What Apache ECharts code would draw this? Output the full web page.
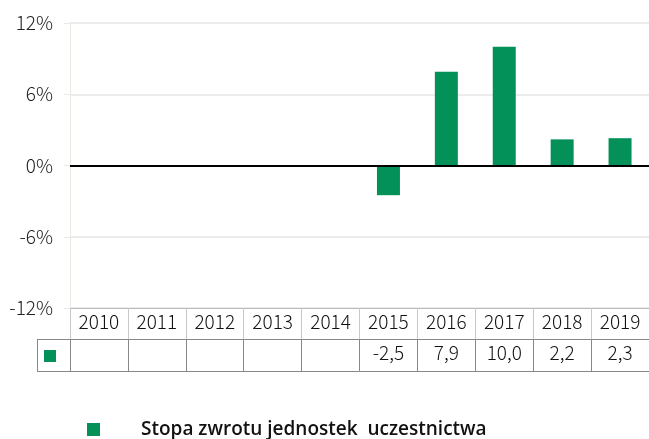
<!DOCTYPE html>
<html>
<head>
<meta charset="utf-8">
<script src="https://cdn.jsdelivr.net/npm/echarts@6/dist/echarts.min.js"></script>
<style>
html,body{margin:0;padding:0;background:#fff;}
#chart{width:649px;height:439px;}
</style>
</head>
<body>
<div id="chart"></div>
<script>
const categories = ['2010','2011','2012','2013','2014','2015','2016','2017','2018','2019'];
const returns = [null, null, null, null, null, -2.5, 7.9, 10.0, 2.2, 2.3];
const yTicks = [-12, -6, 0, 6, 12];
const seriesName = 'Stopa zwrotu jednostek  uczestnictwa';

const green = '#049059';
const tickFont = 'Noto Sans CJK SC';

function fmt(v){ return v == null ? '' : v.toFixed(1).replace('.', ','); }

const chart = echarts.init(document.getElementById('chart'));
chart.setOption({
  animation: false,
  grid: { left: 70, right: -4, top: 23, bottom: 131, containLabel: false },
  legend: {
    data: [{ name: seriesName, icon: 'rect' }],
    left: 82, top: 415,
    itemWidth: 13, itemHeight: 13,
    textStyle: { fontFamily: 'Open Sans', fontSize: 19, fontWeight: 600, color: '#111', padding: [0,0,0,36] }
  },
  xAxis: [
    {
      type: 'category', data: categories, position: 'bottom', offset: 0,
      axisLine: { onZero: false, lineStyle: { color: '#bbb', width: 1 } },
      axisTick: { show: true, interval: 0, length: 31, lineStyle: { color: '#c8c8c8' } },
      axisLabel: { interval: 0, margin: 4, fontFamily: tickFont, fontSize: 19, fontWeight: 300, color: '#111' },
      splitLine: { show: false }
    },
    {
      type: 'category', data: categories, position: 'bottom', offset: 31,
      axisLine: { onZero: false, lineStyle: { color: '#888', width: 1 } },
      axisTick: { show: true, interval: 0, length: 32, lineStyle: { color: '#888' } },
      axisLabel: { interval: 0, margin: 4, fontFamily: tickFont, fontSize: 19, fontWeight: 300, color: '#111',
        formatter: (v, i) => fmt(returns[i]) },
      splitLine: { show: false }
    },
    {
      type: 'category', data: categories, position: 'bottom', offset: 63,
      axisLine: { onZero: false, lineStyle: { color: '#888', width: 1 } },
      axisTick: { show: false }, axisLabel: { show: false }, splitLine: { show: false }
    }
  ],
  yAxis: {
    type: 'value', min: yTicks[0], max: yTicks[yTicks.length-1], interval: 6,
    axisLine: { show: true, lineStyle: { color: '#ece9e2' } },
    axisTick: { show: true, length: 6, lineStyle: { color: '#ece9e2' } },
    axisLabel: { margin: 17, fontFamily: tickFont, fontSize: 19, fontWeight: 300, color: '#222', formatter: v => v + '%' },
    splitLine: { lineStyle: { color: '#e6e6e6', width: 1.5 } }
  },
  series: [{
    name: seriesName, type: 'bar', data: returns, xAxisIndex: 0,
    barWidth: 23, itemStyle: { color: green },
    markLine: {
      silent: true, symbol: 'none', label: { show: false },
      lineStyle: { color: '#000', width: 2, type: 'solid' },
      data: [{ yAxis: 0 }]
    }
  }],
  graphic: [
    { type: 'line', shape: { x1: 37, y1: 339.5, x2: 70, y2: 339.5 }, style: { stroke: '#888', lineWidth: 1 } },
    { type: 'line', shape: { x1: 37, y1: 371.5, x2: 70, y2: 371.5 }, style: { stroke: '#888', lineWidth: 1 } },
    { type: 'line', shape: { x1: 37.5, y1: 339, x2: 37.5, y2: 372 }, style: { stroke: '#888', lineWidth: 1 } },
    { type: 'rect', shape: { x: 44, y: 350, width: 12, height: 12 }, style: { fill: green } }
  ]
});
</script>
</body>
</html>
